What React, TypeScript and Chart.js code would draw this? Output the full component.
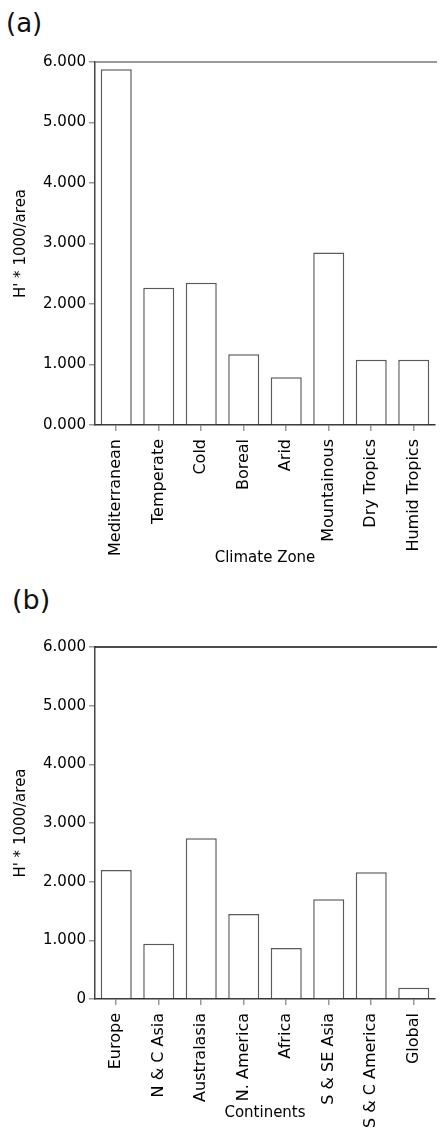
import React, { useEffect, useRef } from "react";
import { Chart, registerables } from "chart.js";

Chart.register(...registerables);

const climateZones = ["Mediterranean", "Temperate", "Cold", "Boreal", "Arid", "Mountainous", "Dry Tropics", "Humid Tropics"];
const climateValues = [5.88, 2.27, 2.35, 1.17, 0.79, 2.85, 1.08, 1.08];

const continents = ["Europe", "N & C Asia", "Australasia", "N. America", "Africa", "S & SE Asia", "S & C America", "Global"];
const continentValues = [2.2, 0.94, 2.74, 1.45, 0.87, 1.7, 2.16, 0.19];

const tickLabelsA = ["0.000", "1.000", "2.000", "3.000", "4.000", "5.000", "6.000"];
const tickLabelsB = ["0", "1.000", "2.000", "3.000", "4.000", "5.000", "6.000"];

const yTitle = "H' * 1000/area";
const FONT = "'DejaVu Sans', sans-serif";

function makeFrame(color: string) {
  return {
    id: "topFrame",
    afterDraw(chart: any) {
      const { ctx, chartArea } = chart;
      ctx.save();
      ctx.strokeStyle = color;
      ctx.lineWidth = 1.5;
      ctx.beginPath();
      ctx.moveTo(chartArea.left, chartArea.top);
      ctx.lineTo(chartArea.right + 2, chartArea.top);
      ctx.stroke();
      ctx.restore();
    },
  };
}

function makeConfig(labels: string[], values: number[], tickLabels: string[], title: string, padTop: number, xHeight: number, frameColor: string): any {
  return {
    type: "bar",
    data: {
      labels,
      datasets: [
        {
          data: values,
          backgroundColor: "#ffffff",
          borderColor: "#5a5a5a",
          borderWidth: 1.5,
          barPercentage: 0.73,
          categoryPercentage: 1,
        },
      ],
    },
    plugins: [makeFrame(frameColor)],
    options: {
      responsive: false,
      animation: false,
      layout: { padding: { top: padTop, right: 1, left: 0, bottom: 0 } },
      plugins: { legend: { display: false }, tooltip: { enabled: false } },
      scales: {
        x: {
          offset: true,
          grid: { display: true, offset: false, drawOnChartArea: false, drawTicks: true, tickLength: 6, color: "#999", lineWidth: 1.5 },
          border: { display: true, color: "#333", width: 1.5 },
          ticks: { autoSkip: false, minRotation: 90, maxRotation: 90, padding: 8, color: "#000", font: { family: FONT, size: 16 } },
          title: { display: true, text: title, color: "#000", font: { family: FONT, size: 15 }, padding: { top: 4, bottom: 13 } },
          afterFit: (s: any) => {
            s.height = xHeight;
          },
        },
        y: {
          min: 0,
          max: 6,
          grid: { drawOnChartArea: false, drawTicks: true, tickLength: 6, color: "#999", lineWidth: 1.5 },
          border: { display: true, color: "#444", width: 1.5 },
          ticks: { stepSize: 1, padding: 3, color: "#000", font: { family: FONT, size: 15 }, callback: (v: any) => tickLabels[Math.round(v)] },
          title: { display: true, text: yTitle, color: "#000", font: { family: FONT, size: 15 }, padding: { top: 12, bottom: 0 } },
          afterFit: (s: any) => {
            s.width = 95;
          },
        },
      },
    },
  };
}

function BarChart(props: { config: any; top: number; height: number }) {
  const ref = useRef<HTMLCanvasElement>(null);
  useEffect(() => {
    if (!ref.current) return;
    const chart = new Chart(ref.current, props.config);
    return () => chart.destroy();
  }, []);
  return (
    <canvas
      ref={ref}
      width={441}
      height={props.height}
      style={{ position: "absolute", left: 0, top: props.top, width: 441, height: props.height, display: "block" }}
    />
  );
}

const labelStyle: React.CSSProperties = {
  position: "absolute",
  left: 6,
  fontFamily: "'DejaVu Sans', sans-serif",
  fontSize: 26,
  lineHeight: "30px",
  color: "#111",
};

export default function App() {
  const configA = makeConfig(climateZones, climateValues, tickLabelsA, "Climate Zone", 22, 155, "#777");
  const configB = makeConfig(continents, continentValues, tickLabelsB, "Continents", 32, 136, "#111");
  return (
    <div style={{ position: "absolute", left: 0, top: 0, width: 441, height: 1135, background: "#fff", overflow: "hidden" }}>
      <div style={{ ...labelStyle, top: 8 }}>(a)</div>
      <BarChart config={configA} top={40} height={540} />
      <div style={{ ...labelStyle, top: 585, left: 12, fontSize: 27 }}>(b)</div>
      <BarChart config={configB} top={615} height={520} />
    </div>
  );
}
